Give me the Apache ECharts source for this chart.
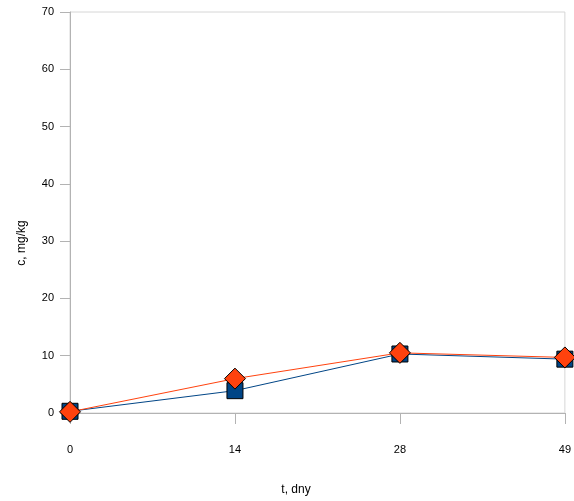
<!DOCTYPE html>
<html><head><meta charset="utf-8">
<script src="https://cdn.jsdelivr.net/npm/echarts@6/dist/echarts.min.js"></script>
<style>html,body{margin:0;padding:0;background:#fff}#c{width:574px;height:501px}</style>
</head><body><div id="c"></div>
<script>
const categories = ['0', '14', '28', '49'];
const seriesSquare = [0.3, 3.9, 10.3, 9.4];
const seriesDiamond = [0.2, 6.0, 10.5, 9.7];
const yMin = 0, yMax = 70, yStep = 10;
const xTitle = 't, dny';
const yTitle = 'c, mg/kg';

const chart = echarts.init(document.getElementById('c'), null, {renderer: 'canvas'});
const font = 'Liberation Sans, Arial, sans-serif';
chart.setOption({
  animation: false,
  backgroundColor: '#fff',
  grid: {left: 70, right: 9, top: 12, bottom: 88, show: true, borderColor: '#d6d6d6', borderWidth: 1, backgroundColor: 'transparent'},
  graphic: [
    {type: 'text', x: 296, y: 490, style: {text: xTitle, font: '12px ' + font, fill: '#000', textAlign: 'center', textVerticalAlign: 'middle'}},
    {type: 'text', x: 22, y: 243, rotation: Math.PI / 2, style: {text: yTitle, font: '12px ' + font, fill: '#000', textAlign: 'center', textVerticalAlign: 'middle'}}
  ],
  xAxis: {
    type: 'category', data: categories, boundaryGap: false,
    axisLine: {lineStyle: {color: '#b3b3b3', width: 1}},
    axisTick: {show: true, length: 11, lineStyle: {color: '#b3b3b3'}, alignWithLabel: true},
    axisLabel: {fontFamily: font, fontSize: 11, color: '#000', margin: 31},
    splitLine: {show: false}
  },
  yAxis: {
    type: 'value', min: yMin, max: yMax, interval: yStep,
    axisLine: {show: true, lineStyle: {color: '#b3b3b3', width: 1}},
    axisTick: {show: true, length: 10, lineStyle: {color: '#b3b3b3'}},
    axisLabel: {fontFamily: font, fontSize: 11, color: '#000', margin: 16},
    splitLine: {show: false}
  },
  series: [
    {
      type: 'line', data: seriesSquare, symbol: 'rect', symbolSize: 16,
      lineStyle: {color: '#004586', width: 1},
      itemStyle: {color: '#004586', borderColor: '#000', borderWidth: 1}
    },
    {
      type: 'line', data: seriesDiamond, symbol: 'diamond', symbolSize: 21,
      lineStyle: {color: '#ff420e', width: 1},
      itemStyle: {color: '#ff420e', borderColor: '#000', borderWidth: 1}
    }
  ]
});
</script></body></html>
